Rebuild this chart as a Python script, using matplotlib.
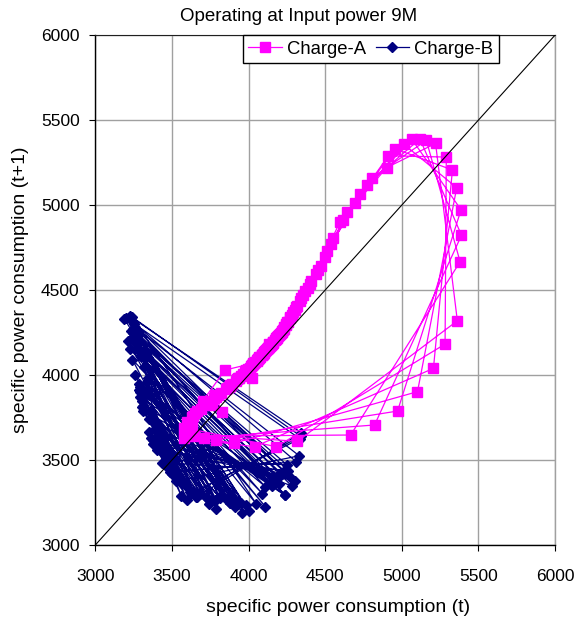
import matplotlib
matplotlib.use('Agg')
import matplotlib.pyplot as plt
import numpy as np

plt.rcParams['font.family'] = ['Liberation Sans', 'DejaVu Sans']

# specific power consumption time series; plotted as (t, t+1) pairs
charge_a = [
    3600, 3722, 3822, 3895, 3950, 3995, 4034, 4068, 4100, 4131, 4162, 4193, 4228, 4273, 4341, 4452, 4618, 4912, 5290, 5282, 4182, 3578,
    3690, 3800, 3880, 3938, 3985, 4025, 4060, 4093, 4124, 4156, 4197, 4234, 4282, 4355, 4470, 4644, 4958, 5330, 5206, 4039, 3578,
    3630, 3755, 3850, 3915, 3966, 4008, 4044, 4077, 4108, 4139, 4170, 4204, 4242, 4293, 4371, 4496, 4694, 5012, 5358, 5102, 3902, 3598,
    3650, 3775, 3862, 3925, 3975, 4016, 4052, 4085, 4116, 4147, 4178, 4211, 4247, 4301, 4385, 4514, 4727, 5066, 5386, 4972, 3788, 3618,
    3665, 3788, 3872, 3932, 3980, 4020, 4056, 4089, 4120, 4151, 4182, 4215, 4253, 4309, 4398, 4538, 4770, 5118, 5389, 4822, 3706, 3630,
    3700, 3846, 4029, 4069, 4103, 4135, 4183, 4218, 4257, 4314, 4408, 4553, 4803, 5160, 5380, 4666, 3647, 3640,
    3760, 3825, 3784, 3880, 3940, 3982, 4025, 3985, 4030, 4062, 4092, 4124, 4156, 4188, 4224, 4267, 4333, 4437, 4596, 4901, 5220, 5362, 4319, 3610, 3652,
]

charge_b = [
    3335, 3960, 3190, 4330, 3525, 3375, 3595, 3352, 3740, 3242, 4090, 3302, 4110, 3225, 4155, 3345,
    3980, 3235, 4260, 3438, 3485, 3470, 3490, 3465, 3460, 3510, 3415, 3600, 3262, 4000, 3200, 4335,
    3625, 3304, 3810, 3280, 4235, 3293, 3870, 3256, 4280, 3348, 3665, 3283, 3910, 3251, 4300, 3375,
    3620, 3310, 3790, 3214, 4200, 3356, 3880, 3249, 4250, 3472, 3500, 3420, 3560, 3291, 3930, 3254,
    4230, 3435, 3560, 3368, 3780, 3266, 4190, 3404, 3640, 3317, 4050, 3242, 4340, 3640, 3305, 3850,
    3270, 4180, 3384, 3720, 3283, 4140, 3366, 3790, 3263, 4215, 3420, 3590, 3347, 3880, 3245, 4310,
    3490, 3430, 3560, 3380, 3730, 3275, 4160, 3372, 3760, 3266, 4195, 3392, 3680, 3298, 4110, 3343,
    3910, 3225, 4345, 3660, 3283, 3950, 3246, 4270, 3400, 3560, 3365, 3630, 3314, 3815, 3275, 4240,
    3293, 3900,
]

diag = [3000, 6000]
ticks = np.arange(3000, 6001, 500)

fig = plt.figure(figsize=(5.77, 6.22), dpi=100)
ax = fig.add_axes([0.1652, 0.1238, 0.7969, 0.8199])

a = np.asarray(charge_a, dtype=float)
b = np.asarray(charge_b, dtype=float)

ax.plot(a[:-1], a[1:], '-s', color='#ff00ff', lw=0.9, ms=6.5, mec='#ff00ff',
        label='Charge-A', zorder=4)
ax.plot(b[:-1], b[1:], '-D', color='#000080', lw=0.9, ms=4.6, mec='#000080',
        label='Charge-B', zorder=3)
ax.plot(diag, diag, color='black', lw=0.8, zorder=5)

ax.set_xlim(diag)
ax.set_ylim(diag)
ax.set_xticks(ticks)
ax.set_yticks(ticks)
ax.grid(True, color='#a0a0a0', lw=1.0)
ax.set_axisbelow(True)

ax.tick_params(direction='out', length=4.3, width=0.8, labelsize=12.5)
ax.tick_params(axis='x', pad=13)
ax.tick_params(axis='y', pad=7)

for side in ['left', 'bottom']:
    ax.spines[side].set_color('black')
    ax.spines[side].set_linewidth(1.0)
ax.spines['top'].set_color('#202020')
ax.spines['top'].set_linewidth(0.8)
ax.spines['right'].set_color('#a0a0a0')
ax.spines['right'].set_linewidth(1.0)

leg = ax.legend(loc='upper left', bbox_to_anchor=(0.321, 1.0), borderaxespad=0,
                ncol=2, frameon=True, fancybox=False, edgecolor='black',
                framealpha=1, fontsize=13.3, handlelength=1.8,
                handletextpad=0.3, columnspacing=0.5, borderpad=0.3)
leg.get_frame().set_linewidth(1.0)
leg.set_zorder(10)

fig.text(0.518, 0.9727, 'Operating at Input power 9M', ha='center', va='center', fontsize=13.5)
fig.text(0.5858, 0.0241, 'specific power consumption (t)', ha='center', va='center', fontsize=14)
fig.text(0.0347, 0.5338, 'specific power consumption (t+1)', ha='center', va='center',
         rotation=90, fontsize=14)

fig.savefig('out.png', dpi=100)
